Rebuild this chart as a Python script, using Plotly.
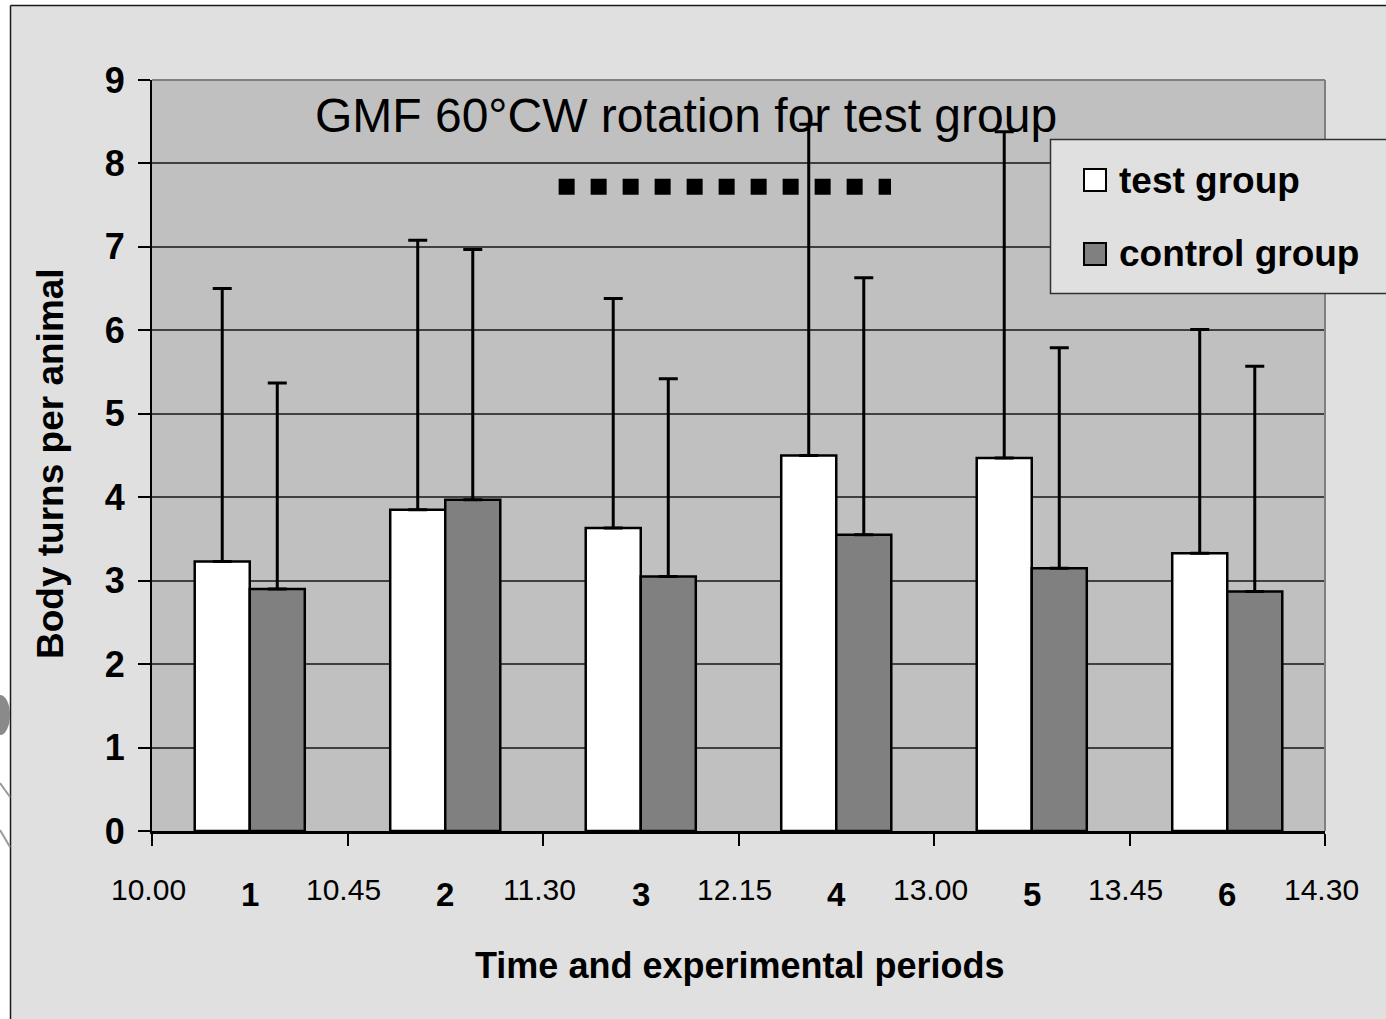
import plotly.graph_objects as go

# Experimental periods and the clock times bounding them
periods = ["1", "2", "3", "4", "5", "6"]
time_marks = ["10.00", "10.45", "11.30", "12.15", "13.00", "13.45", "14.30"]

# Mean body turns per animal and the upper end of each error bar
test_mean = [3.23, 3.85, 3.63, 4.50, 4.47, 3.33]
test_upper = [6.50, 7.08, 6.38, 8.47, 8.38, 6.01]
control_mean = [2.90, 3.97, 3.05, 3.55, 3.15, 2.87]
control_upper = [5.37, 6.97, 5.42, 6.63, 5.79, 5.57]

series_names = ["test group", "control group"]
title_text = "GMF 60°CW rotation for test group"
x_title = "Time and experimental periods"
y_title = "Body turns per animal"

# Span (in period units) and level of the rotation marker
rotation_span = [2.08, 3.78]
rotation_level = 7.72

W, H = 1386, 1019
L, R, T, B = 152, 61, 80, 188
PW, PH = W - L - R, H - T - B

def px(xp):
    return (xp - L) / PW

def py(yp):
    return (H - B - yp) / PH

FONT = "Liberation Sans, Arial, sans-serif"
centers = [i + 0.5 for i in range(len(periods))]

fig = go.Figure()
fig.add_trace(go.Bar(
    x=centers, y=test_mean, name=series_names[0],
    marker=dict(color="#ffffff", line=dict(color="#000000", width=2.5)),
    error_y=dict(type="data", symmetric=False,
                 array=[u - m for u, m in zip(test_upper, test_mean)],
                 arrayminus=[0] * len(test_mean),
                 color="#000000", thickness=3, width=9.5),
))
fig.add_trace(go.Bar(
    x=centers, y=control_mean, name=series_names[1],
    marker=dict(color="#808080", line=dict(color="#000000", width=2.5)),
    error_y=dict(type="data", symmetric=False,
                 array=[u - m for u, m in zip(control_upper, control_mean)],
                 arrayminus=[0] * len(control_mean),
                 color="#000000", thickness=3, width=9.5),
))

shapes = [
    # white margin strips and outer frame of the chart area
    dict(type="rect", xref="paper", yref="paper", x0=px(-5), x1=px(W + 5),
         y0=py(-5), y1=py(5), fillcolor="#ffffff", line=dict(width=0), layer="above"),
    dict(type="rect", xref="paper", yref="paper", x0=px(-5), x1=px(10),
         y0=py(-5), y1=py(H + 5), fillcolor="#ffffff", line=dict(width=0), layer="above"),
    dict(type="line", xref="paper", yref="paper", x0=px(10.5), x1=px(W + 5),
         y0=py(5.5), y1=py(5.5), line=dict(color="#1a1a1a", width=1.5)),
    dict(type="line", xref="paper", yref="paper", x0=px(10.5), x1=px(10.5),
         y0=py(5.5), y1=py(H + 5), line=dict(color="#1a1a1a", width=1.5)),
    # stray marks along the left edge
    dict(type="circle", xref="paper", yref="paper", x0=px(-10), x1=px(10),
         y0=py(695), y1=py(735), fillcolor="#8a8a8a", line=dict(width=0)),
    dict(type="line", xref="paper", yref="paper", x0=px(0), x1=px(10),
         y0=py(783), y1=py(797), line=dict(color="#9a9a9a", width=2)),
    dict(type="line", xref="paper", yref="paper", x0=px(0), x1=px(10),
         y0=py(830), y1=py(847), line=dict(color="#9a9a9a", width=2)),
    # top and right borders of the plotting area
    dict(type="line", xref="paper", yref="paper", x0=0, x1=1, y0=1, y1=1,
         line=dict(color="#808080", width=2)),
    dict(type="line", xref="paper", yref="paper", x0=1, x1=1, y0=0, y1=1,
         line=dict(color="#808080", width=2)),
    # rotation period marker
    dict(type="line", xref="x", yref="y", x0=rotation_span[0], x1=rotation_span[1],
         y0=rotation_level, y1=rotation_level,
         line=dict(color="#000000", width=16, dash="16px,16px")),
    # legend box
    dict(type="rect", xref="paper", yref="paper", x0=px(1050.5), x1=px(W + 10),
         y0=py(139.5), y1=py(293.5), fillcolor="#e0e0e0",
         line=dict(color="#303030", width=1.5)),
    dict(type="rect", xref="paper", yref="paper", x0=px(1084), x1=px(1106),
         y0=py(169), y1=py(191), fillcolor="#ffffff",
         line=dict(color="#000000", width=2)),
    dict(type="rect", xref="paper", yref="paper", x0=px(1084), x1=px(1106),
         y0=py(243), y1=py(265), fillcolor="#808080",
         line=dict(color="#000000", width=2)),
]

annotations = [
    dict(text=title_text, xref="paper", yref="paper", x=px(686), y=py(115),
         showarrow=False, xanchor="center", yanchor="middle",
         font=dict(family=FONT, size=48, color="#000000")),
    dict(text="<b>%s</b>" % series_names[0], xref="paper", yref="paper",
         x=px(1117), y=py(180), showarrow=False, xanchor="left", yanchor="middle",
         font=dict(family=FONT, size=37, color="#000000")),
    dict(text="<b>%s</b>" % series_names[1], xref="paper", yref="paper",
         x=px(1117), y=py(254), showarrow=False, xanchor="left", yanchor="middle",
         font=dict(family=FONT, size=37, color="#000000")),
    dict(text="<b>%s</b>" % x_title, xref="paper", yref="paper",
         x=px(740), y=py(965), showarrow=False, xanchor="center", yanchor="middle",
         font=dict(family=FONT, size=36, color="#000000")),
    dict(text="<b>%s</b>" % y_title, xref="paper", yref="paper",
         x=px(50), y=py(464), showarrow=False, xanchor="center", yanchor="middle",
         textangle=-90, font=dict(family=FONT, size=37, color="#000000")),
]
for i, t in enumerate(time_marks):
    annotations.append(dict(text=t, xref="x", yref="paper", x=i, y=py(889),
                            xshift=-4, showarrow=False, xanchor="center",
                            yanchor="middle",
                            font=dict(family=FONT, size=30, color="#000000")))
for c, p in zip(centers, periods):
    annotations.append(dict(text="<b>%s</b>" % p, xref="x", yref="paper", x=c,
                            y=py(894), showarrow=False, xanchor="center",
                            yanchor="middle",
                            font=dict(family=FONT, size=33, color="#000000")))

fig.update_layout(
    width=W, height=H,
    margin=dict(l=L, r=R, t=T, b=B, pad=0),
    paper_bgcolor="#e0e0e0",
    plot_bgcolor="#c0c0c0",
    barmode="group", bargap=0.437, bargroupgap=0,
    showlegend=False,
    shapes=shapes,
    annotations=annotations,
    xaxis=dict(range=[0, 6], tickvals=list(range(7)), showticklabels=False,
               ticks="outside", ticklen=12, tickwidth=1.5, tickcolor="#000000",
               showgrid=False, zeroline=False, showline=True,
               linecolor="#000000", linewidth=2.5, fixedrange=True),
    yaxis=dict(range=[0, 9], tickvals=list(range(10)), ticks="outside",
               ticklen=12, tickwidth=1.5, tickcolor="#000000",
               showgrid=True, gridcolor="#404040", gridwidth=1.5,
               zeroline=False, showline=True, linecolor="#000000", linewidth=2,
               ticklabelstandoff=6,
               tickfont=dict(family=FONT, size=36, color="#000000", weight="bold"),
               fixedrange=True),
)

fig.write_html("out.html", config={"displayModeBar": False})
